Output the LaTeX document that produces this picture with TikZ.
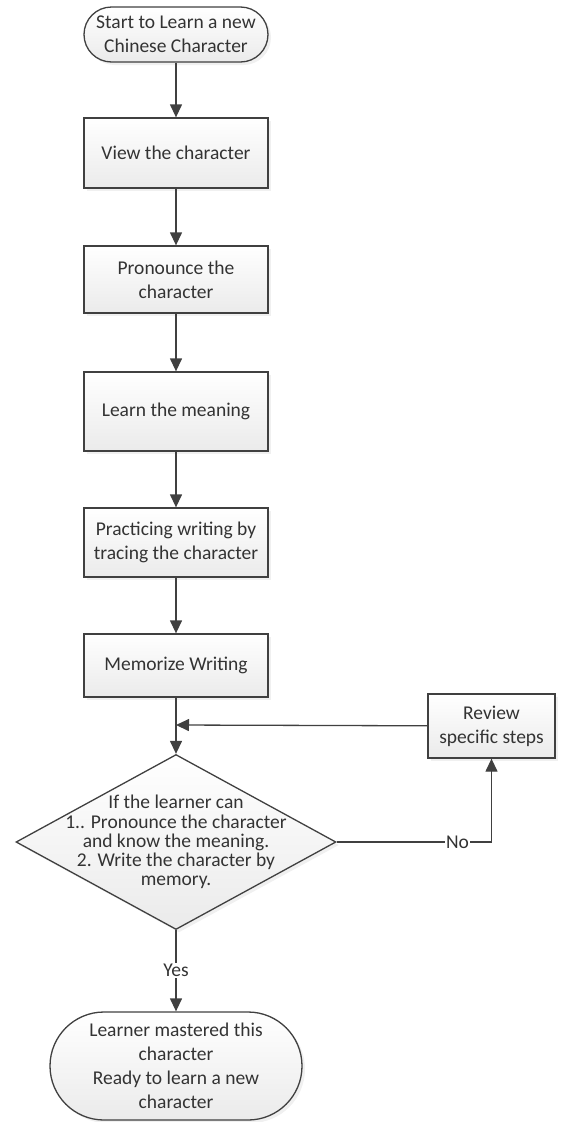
\documentclass[tikz,border=0pt]{standalone}
\usepackage{fontspec}
\setmainfont{Carlito}
\usetikzlibrary{arrows.meta,shapes.geometric,shadows}
\definecolor{linegray}{HTML}{404040}
\definecolor{textgray}{HTML}{333333}
\tikzset{
  base/.style={draw=linegray,line width=1.3pt,top color=white,bottom color=gray!16,
    text=textgray,align=center,inner sep=2pt,font=\fontsize{19.5}{24}\selectfont,
    drop shadow={opacity=0.12,shadow xshift=3pt,shadow yshift=-3pt}},
  stepbox/.style={base,rectangle,minimum width=184pt},
  terminal/.style={base,rectangle},
  decision/.style={base,diamond,minimum width=320pt,minimum height=175pt,inner sep=0pt},
  checktext/.style={align=center,text=textgray,font=\fontsize{19.5}{19.2}\selectfont},
  labeltext/.style={text=textgray,font=\fontsize{19.5}{24}\selectfont,fill=white,inner sep=1pt},
  flow/.style={draw=linegray,line width=1.3pt,-{Triangle[length=13pt,width=12pt]}}
}
\begin{document}
\begin{tikzpicture}[x=1pt,y=-1pt]
\useasboundingbox (0,0) rectangle (560,1122);
\node at (176,34.5) [terminal,minimum width=184pt,minimum height=55pt,rounded corners=27.5pt] (start) {Start to Learn a new\\Chinese Character};
\node at (176,153) [stepbox,minimum height=70pt] (view) {View the character};
\node at (176,279.5) [stepbox,minimum height=67pt] (pronounce) {Pronounce the\\character};
\node at (176,411.5) [stepbox,minimum height=79pt] (meaning) {Learn the meaning};
\node at (176,542.5) [stepbox,minimum height=69pt] (tracing) {Practicing writing by\\tracing the character};
\node at (176,665.5) [stepbox,minimum height=63pt] (memorize) {Memorize Writing};
\coordinate (join) at (176,725);
\node at (176,842) [decision,label={[checktext]center:{If the learner can\\1.. Pronounce the character\\and know the meaning.\\2. Write the character by\\memory.}}] (check) {};
\node at (491.5,726) [stepbox,minimum width=127pt,minimum height=64pt] (review) {Review\\specific steps};
\node at (176,1066) [terminal,minimum width=252pt,minimum height=108pt,rounded corners=54pt] (mastered) {Learner mastered this\\character\\Ready to learn a new\\character};
%
\draw[flow] (start) -- (view);
\draw[flow] (view) -- (pronounce);
\draw[flow] (pronounce) -- (meaning);
\draw[flow] (meaning) -- (tracing);
\draw[flow] (tracing) -- (memorize);
\draw[flow] (memorize) -- (check);
%
\draw[flow] (review) -- (join);
\draw[flow] (check.east) -| node[pos=0.39,labeltext] {No} (review);
\draw[flow] (check) -- node[pos=0.5,labeltext] {Yes} (mastered);
\end{tikzpicture}
\end{document}
